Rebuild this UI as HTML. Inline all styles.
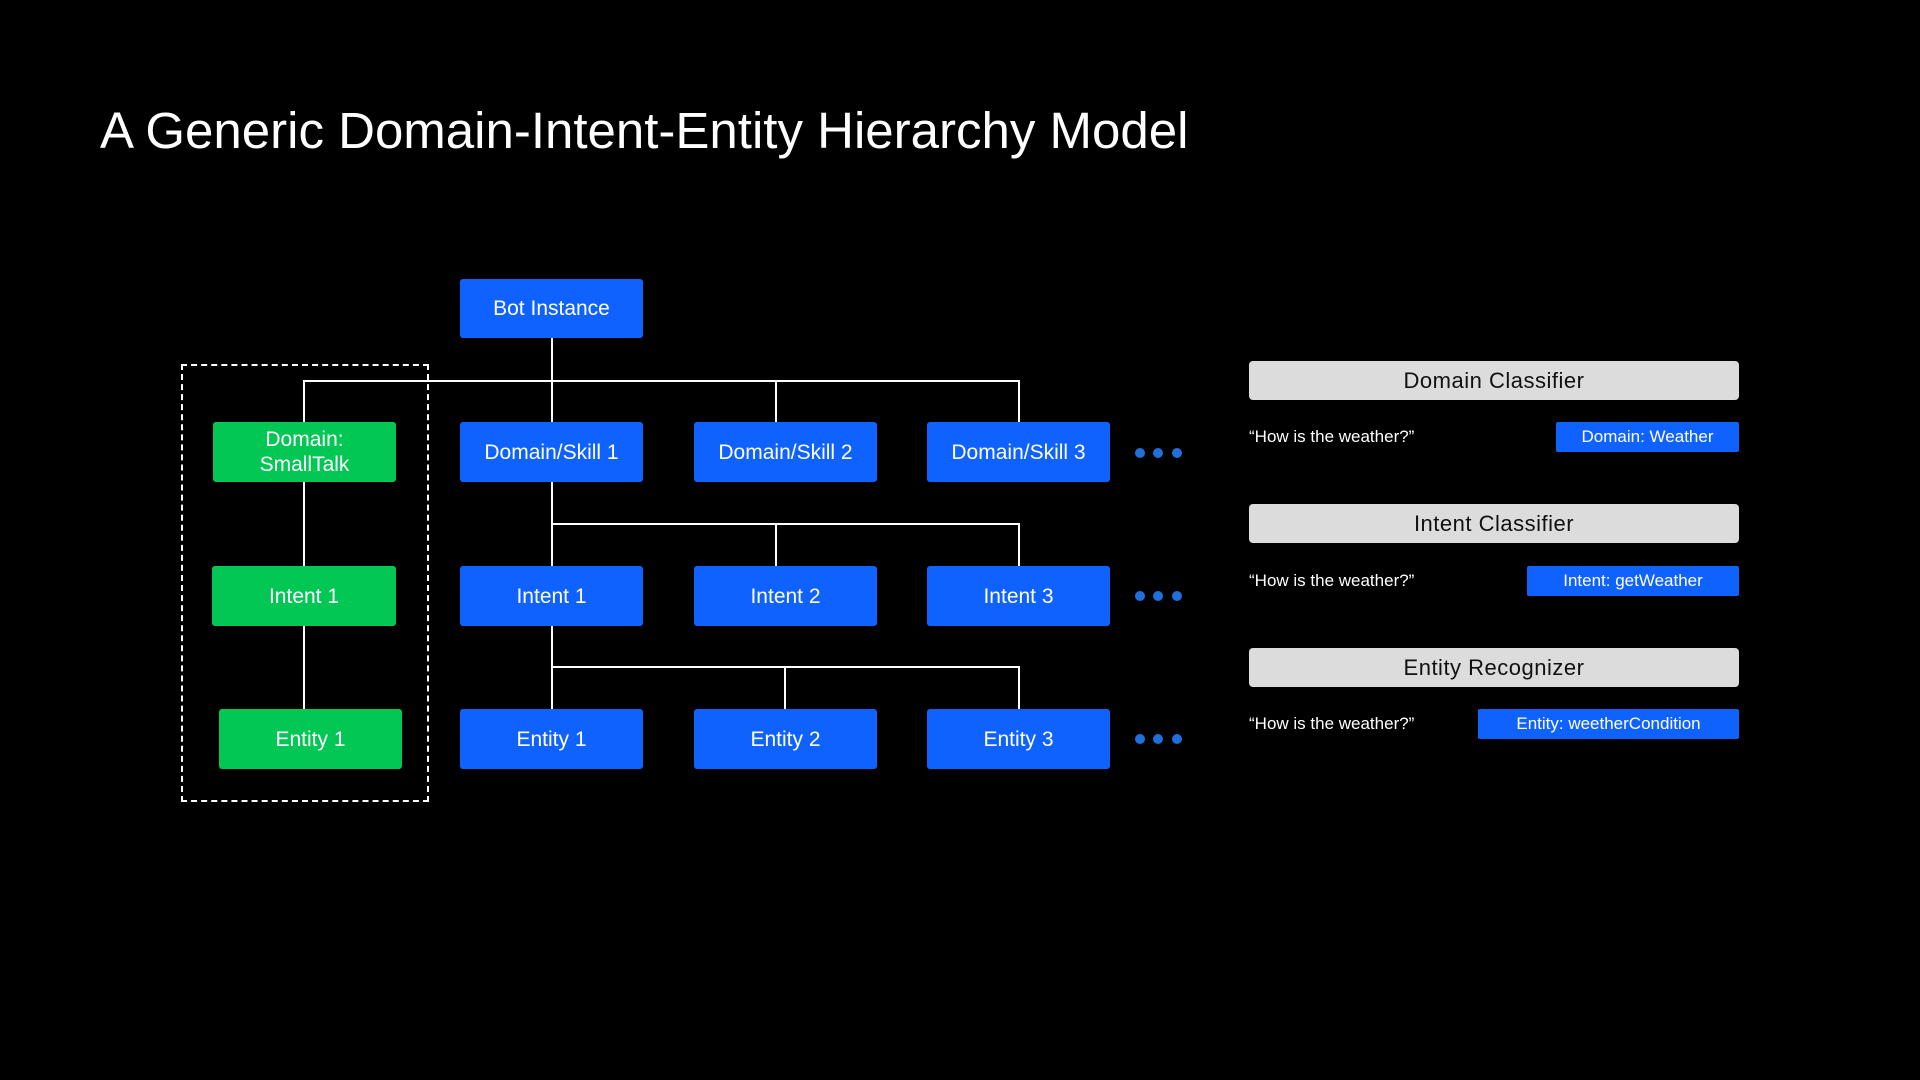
<!DOCTYPE html>
<html><head><meta charset="utf-8"><style>
body{margin:0;width:1920px;height:1080px;background:#000;position:relative;overflow:hidden;font-family:"Liberation Sans",sans-serif;color:#fff}
.t{position:absolute;left:100px;top:101px;font-size:51px;white-space:nowrap}
.n{position:absolute;display:flex;align-items:center;justify-content:center;text-align:center;font-size:21px;border-radius:3px;background:#0f62fe;line-height:25px}
.g{background:#03c755}
.l{position:absolute;background:#fff}
.d{position:absolute;width:10px;height:10px;border-radius:50%;background:#1f6fdc}
.gb{position:absolute;left:1249px;width:490px;height:39px;background:#dcdcdc;border-radius:4px;color:#111;font-size:22px;display:flex;align-items:center;justify-content:center;letter-spacing:0.5px}
.q{position:absolute;left:1249px;font-size:17px}
.tag{position:absolute;height:30px;background:#0f62fe;font-size:17px;display:flex;align-items:center;justify-content:center;border-radius:2px}
</style></head><body>
<div class="t">A Generic Domain-Intent-Entity Hierarchy Model</div>
<div style="position:absolute;left:181px;top:364px;width:244px;height:434px;border:2px dashed #fff"></div>
<div class="l" style="left:551px;top:338px;width:2px;height:84px"></div>
<div class="l" style="left:303px;top:380px;width:717px;height:2px"></div>
<div class="l" style="left:303px;top:380px;width:2px;height:42px"></div>
<div class="l" style="left:775px;top:380px;width:2px;height:42px"></div>
<div class="l" style="left:1018px;top:380px;width:2px;height:42px"></div>
<div class="l" style="left:303px;top:482px;width:2px;height:227px"></div>
<div class="l" style="left:551px;top:482px;width:2px;height:227px"></div>
<div class="l" style="left:551px;top:523px;width:469px;height:2px"></div>
<div class="l" style="left:775px;top:523px;width:2px;height:43px"></div>
<div class="l" style="left:1018px;top:523px;width:2px;height:43px"></div>
<div class="l" style="left:551px;top:666px;width:469px;height:2px"></div>
<div class="l" style="left:784px;top:666px;width:2px;height:43px"></div>
<div class="l" style="left:1018px;top:666px;width:2px;height:43px"></div>
<div class="n" style="left:460px;top:279px;width:183px;height:59px">Bot Instance</div>
<div class="n g" style="left:213px;top:422px;width:183px;height:60px">Domain:<br>SmallTalk</div>
<div class="n" style="left:460px;top:422px;width:183px;height:60px">Domain/Skill 1</div>
<div class="n" style="left:694px;top:422px;width:183px;height:60px">Domain/Skill 2</div>
<div class="n" style="left:927px;top:422px;width:183px;height:60px">Domain/Skill 3</div>
<div class="n g" style="left:212px;top:566px;width:184px;height:60px">Intent 1</div>
<div class="n" style="left:460px;top:566px;width:183px;height:60px">Intent 1</div>
<div class="n" style="left:694px;top:566px;width:183px;height:60px">Intent 2</div>
<div class="n" style="left:927px;top:566px;width:183px;height:60px">Intent 3</div>
<div class="n g" style="left:219px;top:709px;width:183px;height:60px">Entity 1</div>
<div class="n" style="left:460px;top:709px;width:183px;height:60px">Entity 1</div>
<div class="n" style="left:694px;top:709px;width:183px;height:60px">Entity 2</div>
<div class="n" style="left:927px;top:709px;width:183px;height:60px">Entity 3</div>
<div class="d" style="left:1135px;top:448px"></div><div class="d" style="left:1153px;top:448px"></div><div class="d" style="left:1172px;top:448px"></div>
<div class="d" style="left:1135px;top:591px"></div><div class="d" style="left:1153px;top:591px"></div><div class="d" style="left:1172px;top:591px"></div>
<div class="d" style="left:1135px;top:734px"></div><div class="d" style="left:1153px;top:734px"></div><div class="d" style="left:1172px;top:734px"></div>
<div class="gb" style="top:361px">Domain Classifier</div>
<div class="q" style="top:427px">“How is the weather?”</div>
<div class="tag" style="left:1556px;top:422px;width:183px">Domain: Weather</div>
<div class="gb" style="top:504px">Intent Classifier</div>
<div class="q" style="top:571px">“How is the weather?”</div>
<div class="tag" style="left:1527px;top:566px;width:212px">Intent: getWeather</div>
<div class="gb" style="top:648px">Entity Recognizer</div>
<div class="q" style="top:714px">“How is the weather?”</div>
<div class="tag" style="left:1478px;top:709px;width:261px">Entity: weetherCondition</div>
</body></html>
